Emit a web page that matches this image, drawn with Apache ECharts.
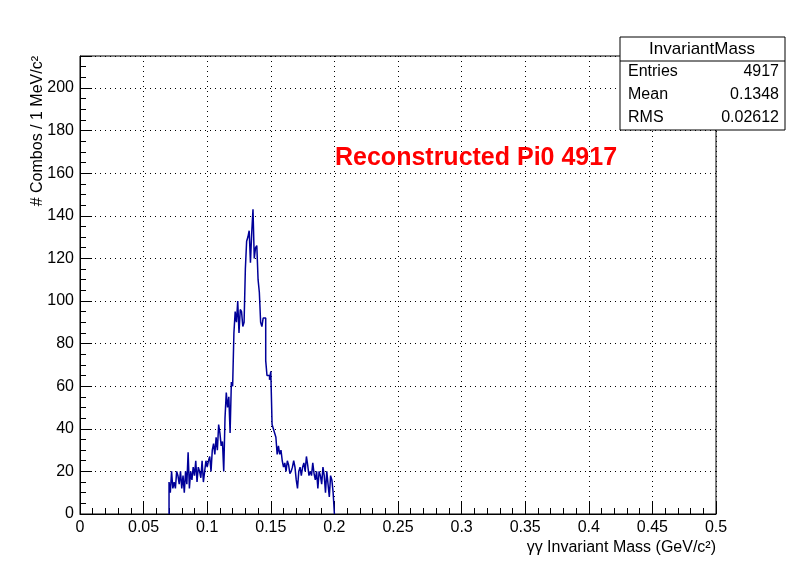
<!DOCTYPE html><html><head><meta charset="utf-8"><script src="https://cdn.jsdelivr.net/npm/echarts@6/dist/echarts.min.js"></script></head><body style="margin:0;background:#fff"><div id="c" style="width:796px;height:572px"></div><script>
const binStart = 0.070, binWidth = 0.001;
const counts = [15,10,20,12,15,12,20,18,14,20,
12,18,10,20,14,29,12,20,16,22,
18,25,15,22,20,17,25,15,20,25,
22,25,27,20,30,33,28,36,30,42,
38,32,34,20,45,57,50,55,38,62,
60,85,95,90,100,85,96,95,88,90,
115,128,130,133,118,132,143,120,125,126,
110,104,90,88,92,92,72,65,65,63,
67,42,40,38,36,28,32,28,30,25,
22,24,20,25,23,19,20,22,25,22,
16,12,20,22,18,22,24,20,27,23,
18,20,18,24,19,16,20,12,20,18,
14,22,18,10,20,14,8,18,16,10];
const xTicks = [0,0.05,0.1,0.15,0.2,0.25,0.3,0.35,0.4,0.45,0.5];
const stats = [["Entries","4917"],["Mean","0.1348"],["RMS","0.02612"]];
const pts = [[binStart,0]];
counts.forEach((v,i)=>pts.push([+(binStart+i*binWidth).toFixed(3),v]));
pts.push([+(binStart+counts.length*binWidth).toFixed(3),counts[counts.length-1]]);
pts.push([+(binStart+counts.length*binWidth).toFixed(3),0]);
const F='Liberation Sans';
const ch=echarts.init(document.getElementById('c'));
const g=[];
g.push({type:'rect',z:100,shape:{x:620,y:37,width:165,height:93},style:{fill:'#fff',stroke:'#000',lineWidth:1}});
g.push({type:'line',z:101,shape:{x1:620,y1:61,x2:785,y2:61},style:{stroke:'#000'}});
g.push({type:'text',z:101,x:702,y:49,style:{text:'InvariantMass',font:'17px '+F,fill:'#000',align:'center',verticalAlign:'middle'}});
stats.forEach((s,i)=>{g.push({type:'text',z:101,x:628,y:72+i*23,style:{text:s[0],font:'16px '+F,fill:'#000',verticalAlign:'middle'}});
g.push({type:'text',z:101,x:779,y:72+i*23,style:{text:s[1],font:'16px '+F,fill:'#000',align:'right',verticalAlign:'middle'}});});
g.push({type:'text',z:101,x:335,y:158,style:{text:'Reconstructed Pi0 4917',font:'bold 25px '+F,fill:'#ff0000',verticalAlign:'middle'}});
g.push({type:'text',x:716,y:548,style:{text:'γγ Invariant Mass (GeV/c²)',font:'16px '+F,fill:'#000',align:'right',verticalAlign:'middle'}});
g.push({type:'text',x:38,y:56,rotation:Math.PI/2,style:{text:'# Combos / 1 MeV/c²',font:'16px '+F,fill:'#000',align:'right',verticalAlign:'middle'}});
ch.setOption({animation:false,graphic:g,
grid:{left:80,right:80,top:56,bottom:58,show:true,borderColor:'#000',borderWidth:1},
xAxis:{type:'value',min:0,max:0.5,interval:0.05,axisLine:{lineStyle:{color:'#000'}},axisTick:{inside:true,length:12,lineStyle:{color:'#000'}},minorTick:{show:true,splitNumber:5,length:6,lineStyle:{color:'#000'}},
axisLabel:{color:'#000',fontFamily:F,fontSize:16,margin:6,formatter:v=>{const t=xTicks.find(x=>Math.abs(x-v)<1e-9);return t===undefined?'':String(t);}},
splitLine:{show:true,lineStyle:{color:'#000',type:[1,4]}}},
yAxis:{type:'value',min:0,max:215,interval:20,axisLine:{lineStyle:{color:'#000'}},axisTick:{inside:true,length:12,lineStyle:{color:'#000'}},minorTick:{show:true,splitNumber:4,length:6,lineStyle:{color:'#000'}},
axisLabel:{color:'#000',fontFamily:F,fontSize:16,margin:6,showMaxLabel:false},
splitLine:{show:true,lineStyle:{color:'#000',type:[1,4]}}},
series:[{type:'line',step:'end',data:pts,symbol:'none',lineStyle:{color:'#000099',width:1.5}}]});
</script></body></html>
